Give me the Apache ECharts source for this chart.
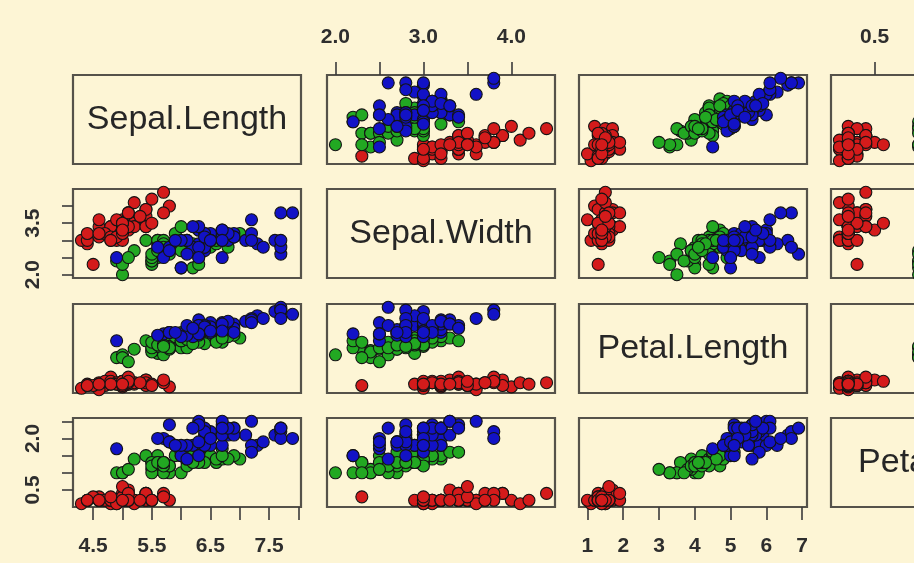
<!DOCTYPE html>
<html><head><meta charset="utf-8">
<script src="https://cdn.jsdelivr.net/npm/echarts@6/dist/echarts.min.js"></script>
<style>html,body{margin:0;padding:0;background:#FDF5D5;} #c{width:914px;height:563px;}</style>
</head><body><div id="c"></div>
<script>
// ---- data (Edgar Anderson's iris, as plotted) ----
const varNames = ['Sepal.Length', 'Sepal.Width', 'Petal.Length', 'Petal.Width'];
const speciesNames = ['setosa', 'versicolor', 'virginica'];

const setosaSepalLength = [5.1,4.9,4.7,4.6,5.0,5.4,4.6,5.0,4.4,4.9,5.4,4.8,4.8,4.3,5.8,5.7,5.4,5.1,5.7,5.1,5.4,5.1,4.6,5.1,4.8,5.0,5.0,5.2,5.2,4.7,4.8,5.4,5.2,5.5,4.9,5.0,5.5,4.9,4.4,5.1,5.0,4.5,4.4,5.0,5.1,4.8,5.1,4.6,5.3,5.0];
const setosaSepalWidth  = [3.5,3.0,3.2,3.1,3.6,3.9,3.4,3.4,2.9,3.1,3.7,3.4,3.0,3.0,4.0,4.4,3.9,3.5,3.8,3.8,3.4,3.7,3.6,3.3,3.4,3.0,3.4,3.5,3.4,3.2,3.1,3.4,4.1,4.2,3.1,3.2,3.5,3.6,3.0,3.4,3.5,2.3,3.2,3.5,3.8,3.0,3.8,3.2,3.7,3.3];
const setosaPetalLength = [1.4,1.4,1.3,1.5,1.4,1.7,1.4,1.5,1.4,1.5,1.5,1.6,1.4,1.1,1.2,1.5,1.3,1.4,1.7,1.5,1.7,1.5,1.0,1.7,1.9,1.6,1.6,1.5,1.4,1.6,1.6,1.5,1.5,1.4,1.5,1.2,1.3,1.4,1.3,1.5,1.3,1.3,1.3,1.6,1.9,1.4,1.6,1.4,1.5,1.4];
const setosaPetalWidth  = [0.2,0.2,0.2,0.2,0.2,0.4,0.3,0.2,0.2,0.1,0.2,0.2,0.1,0.1,0.2,0.4,0.4,0.3,0.3,0.3,0.2,0.4,0.2,0.5,0.2,0.2,0.4,0.2,0.2,0.2,0.2,0.4,0.1,0.2,0.2,0.2,0.2,0.1,0.2,0.2,0.3,0.3,0.2,0.6,0.4,0.3,0.2,0.2,0.2,0.2];

const versicolorSepalLength = [7.0,6.4,6.9,5.5,6.5,5.7,6.3,4.9,6.6,5.2,5.0,5.9,6.0,6.1,5.6,6.7,5.6,5.8,6.2,5.6,5.9,6.1,6.3,6.1,6.4,6.6,6.8,6.7,6.0,5.7,5.5,5.5,5.8,6.0,5.4,6.0,6.7,6.3,5.6,5.5,5.5,6.1,5.8,5.0,5.6,5.7,5.7,6.2,5.1,5.7];
const versicolorSepalWidth  = [3.2,3.2,3.1,2.3,2.8,2.8,3.3,2.4,2.9,2.7,2.0,3.0,2.2,2.9,2.9,3.1,3.0,2.7,2.2,2.5,3.2,2.8,2.5,2.8,2.9,3.0,2.8,3.0,2.9,2.6,2.4,2.4,2.7,2.7,3.0,3.4,3.1,2.3,3.0,2.5,2.6,3.0,2.6,2.3,2.7,3.0,2.9,2.9,2.5,2.8];
const versicolorPetalLength = [4.7,4.5,4.9,4.0,4.6,4.5,4.7,3.3,4.6,3.9,3.5,4.2,4.0,4.7,3.6,4.4,4.5,4.1,4.5,3.9,4.8,4.0,4.9,4.7,4.3,4.4,4.8,5.0,4.5,3.5,3.8,3.7,3.9,5.1,4.5,4.5,4.7,4.4,4.1,4.0,4.4,4.6,4.0,3.3,4.2,4.2,4.2,4.3,3.0,4.1];
const versicolorPetalWidth  = [1.4,1.5,1.5,1.3,1.5,1.3,1.6,1.0,1.3,1.4,1.0,1.5,1.0,1.4,1.3,1.4,1.5,1.0,1.5,1.1,1.8,1.3,1.5,1.2,1.3,1.4,1.4,1.7,1.5,1.0,1.1,1.0,1.2,1.6,1.5,1.6,1.5,1.3,1.3,1.3,1.2,1.4,1.2,1.0,1.3,1.2,1.3,1.3,1.1,1.3];

const virginicaSepalLength = [6.3,5.8,7.1,6.3,6.5,7.6,4.9,7.3,6.7,7.2,6.5,6.4,6.8,5.7,5.8,6.4,6.5,7.7,7.7,6.0,6.9,5.6,7.7,6.3,6.7,7.2,6.2,6.1,6.4,7.2,7.4,7.9,6.4,6.3,6.1,7.7,6.3,6.4,6.0,6.9,6.7,6.9,5.8,6.8,6.7,6.7,6.3,6.5,6.2,5.9];
const virginicaSepalWidth  = [3.3,2.7,3.0,2.9,3.0,3.0,2.5,2.9,2.5,3.6,3.2,2.7,3.0,2.5,2.8,3.2,3.0,3.8,2.6,2.2,3.2,2.8,2.8,2.7,3.3,3.2,2.8,3.0,2.8,3.0,2.8,3.8,2.8,2.8,2.6,3.0,3.4,3.1,3.0,3.1,3.1,3.1,2.7,3.2,3.3,3.0,2.5,3.0,3.4,3.0];
const virginicaPetalLength = [6.0,5.1,5.9,5.6,5.8,6.6,4.5,6.3,5.8,6.1,5.1,5.3,5.5,5.0,5.1,5.3,5.5,6.7,6.9,5.0,5.7,4.9,6.7,4.9,5.7,6.0,4.8,4.9,5.6,5.8,6.1,6.4,5.6,5.1,5.6,6.1,5.6,5.5,4.8,5.4,5.6,5.1,5.1,5.9,5.7,5.2,5.0,5.2,5.4,5.1];
const virginicaPetalWidth  = [2.5,1.9,2.1,1.8,2.2,2.1,1.7,1.8,1.8,2.5,2.0,1.9,2.1,2.0,2.4,2.3,1.8,2.2,2.3,1.5,2.3,2.0,2.0,1.8,2.1,1.8,1.8,1.8,2.1,1.6,1.9,2.0,2.2,1.5,1.4,2.3,2.4,1.8,1.8,2.1,2.4,2.3,1.9,2.3,2.5,2.3,1.9,2.0,2.3,1.8];

// tick positions per variable and the labels R kept on each side
const tickValues = [
  [4.5, 5.0, 5.5, 6.0, 6.5, 7.0, 7.5, 8.0],
  [2.0, 2.5, 3.0, 3.5, 4.0],
  [1, 2, 3, 4, 5, 6, 7],
  [0.5, 1.0, 1.5, 2.0, 2.5]
];
const bottomTickLabels = [[4.5, 5.5, 6.5, 7.5], null, [1, 2, 3, 4, 5, 6, 7], null];
const topTickLabels    = [null, [2.0, 3.0, 4.0], null, [0.5, 1.5, 2.5]];
const leftTickLabels   = [null, [2.0, 3.5], null, [0.5, 2.0]];
const labelDecimals    = [1, 1, 0, 1];

// ---- style / layout ----
const speciesColors = ['#D41B1B', '#22A822', '#1212C6'];
const bg = '#FDF5D5';
const boxColor = '#55524a';
const colLeft = [73, 327, 579, 831];
const rowTop = [75, 189, 304, 418];
const panelW = 228, panelH = 89;
const fontFam = '"Liberation Sans", Arial, Helvetica, sans-serif';

const columns = [
  [setosaSepalLength, versicolorSepalLength, virginicaSepalLength],
  [setosaSepalWidth, versicolorSepalWidth, virginicaSepalWidth],
  [setosaPetalLength, versicolorPetalLength, virginicaPetalLength],
  [setosaPetalWidth, versicolorPetalWidth, virginicaPetalWidth]
];
function paddedRange(v) {
  const all = [].concat(...columns[v]);
  const mn = Math.min(...all), mx = Math.max(...all);
  const pad = (mx - mn) * 0.04;
  return [mn - pad, mx + pad];
}
const ranges = varNames.map((_, v) => paddedRange(v));

const grids = [], xAxes = [], yAxes = [], series = [], graphics = [];
const tickStyle = { color: '#3a3a3a', width: 1.6 };
const labelStyle = (v) => ({
  show: true, fontSize: 21, fontWeight: 'bold', color: '#2e2e2e', fontFamily: fontFam,
  formatter: (val) => Number(val).toFixed(labelDecimals[v])
});

for (let i = 0; i < 4; i++) {
  for (let j = 0; j < 4; j++) {
    const k = i * 4 + j;
    grids.push({
      left: colLeft[j], top: rowTop[i], width: panelW, height: panelH,
      show: true, borderColor: boxColor, borderWidth: 2.2, backgroundColor: 'transparent',
      containLabel: false, outerBoundsMode: 'none'
    });
    const xa = {
      type: 'value', gridIndex: k, min: ranges[j][0], max: ranges[j][1],
      axisLine: { show: false }, splitLine: { show: false },
      axisTick: { show: false }, axisLabel: { show: false }
    };
    const ya = {
      type: 'value', gridIndex: k, min: ranges[i][0], max: ranges[i][1],
      axisLine: { show: false }, splitLine: { show: false },
      axisTick: { show: false }, axisLabel: { show: false }
    };
    if (i === 3 && bottomTickLabels[j]) {
      xa.position = 'bottom';
      xa.axisTick = { show: true, inside: false, length: 13, lineStyle: tickStyle, customValues: tickValues[j] };
      xa.axisLabel = Object.assign(labelStyle(j), { margin: 29, customValues: bottomTickLabels[j] });
    }
    if (i === 0 && topTickLabels[j]) {
      xa.position = 'top';
      xa.axisTick = { show: true, inside: false, length: 13, lineStyle: tickStyle, customValues: tickValues[j] };
      xa.axisLabel = Object.assign(labelStyle(j), { margin: 27, customValues: topTickLabels[j] });
    }
    if (j === 0 && leftTickLabels[i]) {
      ya.position = 'left';
      ya.axisTick = { show: true, inside: false, length: 11, lineStyle: tickStyle, customValues: tickValues[i] };
      ya.axisLabel = Object.assign(labelStyle(i), { margin: 29, rotate: 90, customValues: leftTickLabels[i] });
    }
    xAxes.push(xa); yAxes.push(ya);

    if (i === j) {
      graphics.push({
        type: 'text', silent: true,
        x: colLeft[j] + panelW / 2, y: rowTop[i] + panelH / 2,
        style: {
          text: varNames[i], fill: '#262626', font: '34px ' + fontFam,
          textAlign: 'center', textVerticalAlign: 'middle'
        }
      });
      continue;
    }
    for (let s = 0; s < 3; s++) {
      const xs = columns[j][s], ys = columns[i][s];
      series.push({
        type: 'scatter', name: speciesNames[s], xAxisIndex: k, yAxisIndex: k,
        data: xs.map((x, n) => [x, ys[n]]),
        symbol: 'circle', symbolSize: 12, silent: true,
        itemStyle: { color: speciesColors[s], borderColor: '#141414', borderWidth: 1.1, opacity: 1 }
      });
    }
  }
}

const chart = echarts.init(document.getElementById('c'), null, { renderer: 'canvas' });
chart.setOption({
  backgroundColor: bg,
  animation: false,
  grid: grids, xAxis: xAxes, yAxis: yAxes, series: series,
  graphic: graphics
});
</script>
</body></html>
